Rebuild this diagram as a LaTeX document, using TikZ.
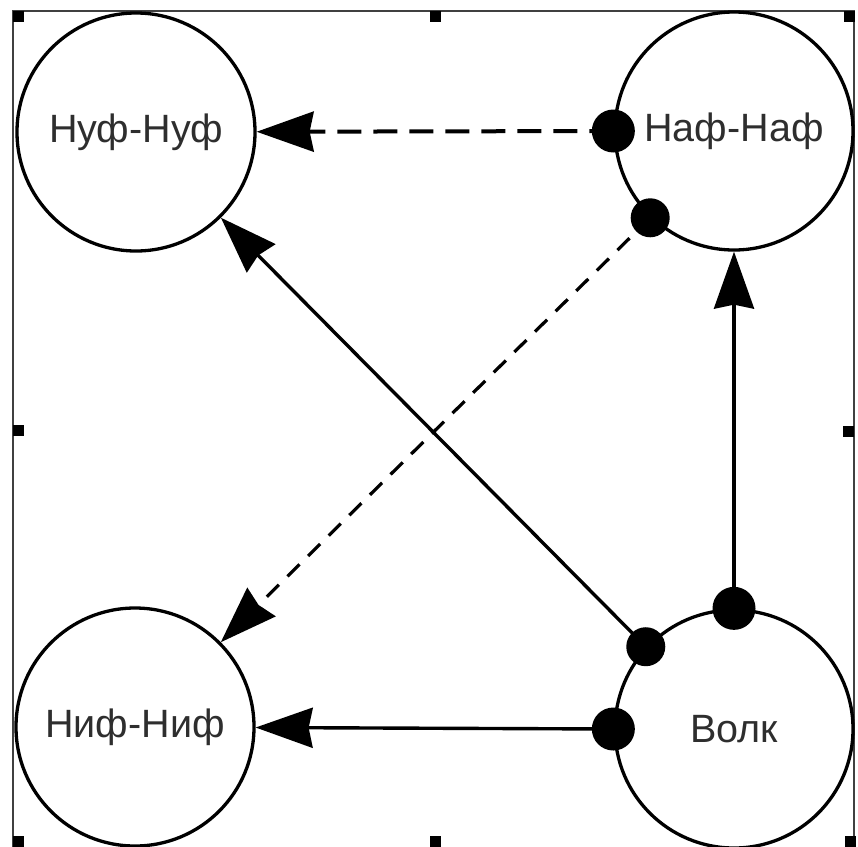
\documentclass[tikz,border=0pt]{standalone}
\usepackage{fontspec}
\setmainfont{Liberation Sans}
\usetikzlibrary{arrows.meta}

\begin{document}
\begin{tikzpicture}[x=1pt,y=-1pt,
  pig/.style={draw, line width=3.3pt, circle, minimum size=238pt, inner sep=0pt,
    font=\fontsize{39.5}{42}\selectfont, text=black!82},
  port/.style={fill, circle, inner sep=0pt, minimum size=43pt},
  portsm/.style={fill, circle, inner sep=0pt, minimum size=39pt},
  link/.style={line width=3.4pt, -{Stealth[length=57pt,width=40pt,inset=4pt]}},
  bigdash/.style={line width=4pt, dash pattern=on 24pt off 12pt},
  smalldash/.style={line width=3.2pt, dash pattern=on 17pt off 12pt},
  handle/.style={fill=black, minimum size=11pt, inner sep=0pt, anchor=north west},
  frameline/.style={draw=black!75, line width=2pt}
]
\useasboundingbox (0,0) rectangle (858,846);

% selection frame with its handles
\draw[frameline] (13,11) rectangle (854,860);
\node[handle] (h1) at (13,11) {};
\node[handle] (h2) at (430,11) {};
\node[handle] (h3) at (844,11) {};
\node[handle] (h4) at (13,425) {};
\node[handle] (h5) at (843,426) {};
\node[handle] (h6) at (13,836) {};
\node[handle] (h7) at (430,836) {};
\node[handle] (h8) at (845,836) {};

% the four characters
\node[pig] (nuf)  at (136,132) {Нуф-Нуф};
\node[pig] (naf)  at (734,131) {Наф-Наф};
\node[pig] (nif)  at (135,727) {Ниф-Ниф};
\node[pig] (volk) at (734,729) {Волк};

% connection points on the circles
\coordinate (nafL)  at (naf.180);
\coordinate (nafD)  at (naf.226.8);
\coordinate (volkU) at (volk.90);
\coordinate (volkD) at (volk.137.8);
\coordinate (volkL) at (volk.180);

% relations
\draw[link, bigdash] (nafL) -- (nuf);
\draw[link, smalldash] (nafD) -- (nif);
\draw[link] (volkD) -- (nuf);
\draw[link] (volkU) -- (naf);
\draw[link] (volkL) -- (nif);

% port dots on top
\node[port]   (p1) at (nafL) {};
\node[portsm] (p2) at (nafD) {};
\node[port]   (p3) at (volkU) {};
\node[portsm] (p4) at (volkD) {};
\node[port]   (p5) at (volkL) {};
\end{tikzpicture}
\end{document}
